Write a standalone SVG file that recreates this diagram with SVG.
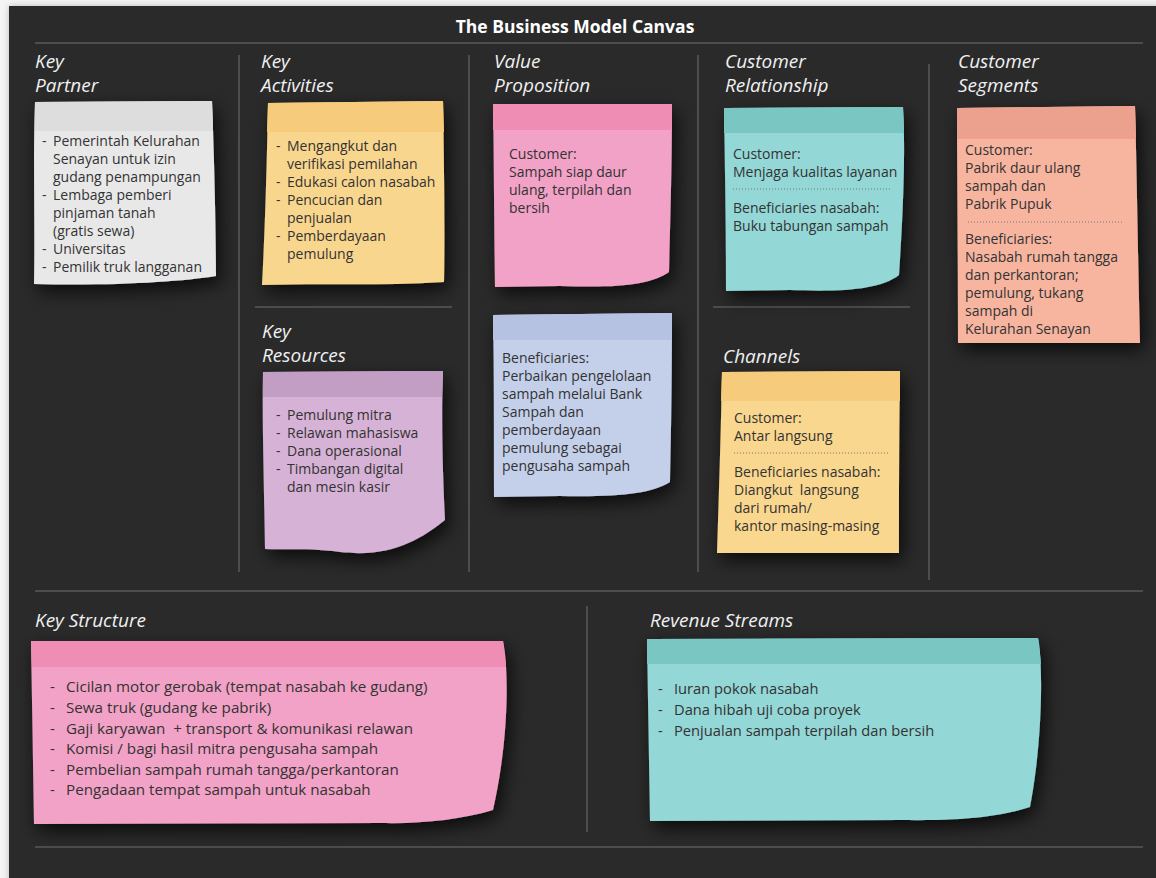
<svg xmlns="http://www.w3.org/2000/svg" width="1156" height="878" viewBox="0 0 1156 878">
<defs>
<filter id="sh" x="-20%" y="-20%" width="150%" height="150%">
<feDropShadow dx="4" dy="7" stdDeviation="9" flood-color="#000" flood-opacity="0.75"/>
</filter>
<filter id="pg" x="-5%" y="-5%" width="110%" height="110%">
<feDropShadow dx="0" dy="0" stdDeviation="3" flood-color="#000" flood-opacity="0.25"/>
</filter>
<style>
.title{font-family:"Open Sans","Noto Sans",sans-serif;font-weight:700;font-size:17.5px;fill:#ffffff}
.hd{font-family:"Open Sans","Noto Sans",sans-serif;font-style:italic;font-size:19px;fill:#f0f0f0}
.tx{font-family:"Open Sans","Noto Sans",sans-serif;font-size:14px;fill:#333333}
.ks{font-size:15.2px}
.rv{font-size:14.7px}
.div{stroke:#4d4d4d;stroke-width:2;fill:none}
.dot{stroke:#777;stroke-width:1;stroke-dasharray:1 2;fill:none}
</style>
</defs>
<rect x="0" y="0" width="1156" height="878" fill="#f4f4f4"/>
<rect x="9" y="6" width="1160" height="880" fill="#2a2a2a" filter="url(#pg)"/>
<text class="title" x="575" y="33" text-anchor="middle">The Business Model Canvas</text>
<g id="dividers">
<line class="div" x1="35" y1="43" x2="1143" y2="43"/>
<line class="div" x1="239" y1="55" x2="239" y2="572"/>
<line class="div" x1="469" y1="55" x2="469" y2="572"/>
<line class="div" x1="698" y1="55" x2="698" y2="572"/>
<line class="div" x1="929" y1="64" x2="929" y2="580"/>
<line class="div" x1="255" y1="307" x2="452" y2="307"/>
<line class="div" x1="713" y1="307" x2="910" y2="307"/>
<line class="div" x1="35" y1="591" x2="1143" y2="591"/>
<line class="div" x1="587" y1="606" x2="587" y2="832"/>
<line class="div" x1="35" y1="847" x2="1143" y2="847"/>
</g>
<g id="headings">
<text class="hd" x="35" y="68">Key</text><text class="hd" x="35" y="92">Partner</text>
<text class="hd" x="261" y="68">Key</text><text class="hd" x="261" y="92">Activities</text>
<text class="hd" x="494" y="68">Value</text><text class="hd" x="494" y="92">Proposition</text>
<text class="hd" x="725" y="68">Customer</text><text class="hd" x="725" y="92">Relationship</text>
<text class="hd" x="958" y="68">Customer</text><text class="hd" x="958" y="92">Segments</text>
<text class="hd" x="262" y="338">Key</text><text class="hd" x="262" y="362">Resources</text>
<text class="hd" x="723" y="363">Channels</text>
<text class="hd" x="35" y="627">Key Structure</text>
<text class="hd" x="650" y="627">Revenue Streams</text>
</g>
<g id="key-partner">
<path d="M35,102 L212,101 C214,150 216,230 216,276 C180,282 110,286 34,284 C35,230 33,150 35,102 Z" fill="#e8e8e8" filter="url(#sh)"/>
<polygon points="35,102 212,101 213,131 35,131" fill="#dcdddc"/>
<text class="tx"><tspan x="42" y="146">-</tspan><tspan x="53" y="146">Pemerintah Kelurahan</tspan><tspan x="53" y="164">Senayan untuk izin</tspan><tspan x="53" y="182">gudang penampungan</tspan><tspan x="42" y="200">-</tspan><tspan x="53" y="200">Lembaga pemberi</tspan><tspan x="53" y="218">pinjaman tanah</tspan><tspan x="53" y="236">(gratis sewa)</tspan><tspan x="42" y="254">-</tspan><tspan x="53" y="254">Universitas</tspan><tspan x="42" y="272">-</tspan><tspan x="53" y="272">Pemilik truk langganan</tspan></text>
</g>
<g id="key-activities">
<path d="M268,103 L443,101 C444,160 445,230 444,282 C380,286 320,283 262,285 C265,230 267,160 268,103 Z" fill="#f9d68e" filter="url(#sh)"/>
<polygon points="268,103 443,101 444,132 267,132" fill="#f6cb7c"/>
<text class="tx"><tspan x="276" y="151">-</tspan><tspan x="287" y="151">Mengangkut dan</tspan><tspan x="287" y="169">verifikasi pemilahan</tspan><tspan x="276" y="187">-</tspan><tspan x="287" y="187">Edukasi calon nasabah</tspan><tspan x="276" y="205">-</tspan><tspan x="287" y="205">Pencucian dan</tspan><tspan x="287" y="223">penjualan</tspan><tspan x="276" y="241">-</tspan><tspan x="287" y="241">Pemberdayaan</tspan><tspan x="287" y="259">pemulung</tspan></text>
</g>
<g id="key-resources">
<path d="M263,372 L443,371 C441,420 443,480 445,520 C420,540 390,558 340,552 C310,548 290,550 265,549 C264,480 262,420 263,372 Z" fill="#d6b2d6" filter="url(#sh)"/>
<polygon points="263,372 443,371 442,397 263,397" fill="#c29ec4"/>
<text class="tx"><tspan x="276" y="420">-</tspan><tspan x="287" y="420">Pemulung mitra</tspan><tspan x="276" y="438">-</tspan><tspan x="287" y="438">Relawan mahasiswa</tspan><tspan x="276" y="456">-</tspan><tspan x="287" y="456">Dana operasional</tspan><tspan x="276" y="474">-</tspan><tspan x="287" y="474">Timbangan digital</tspan><tspan x="287" y="492">dan mesin kasir</tspan></text>
</g>
<g id="value-proposition-customer">
<path d="M493,104 L672,104 C672,170 670,230 669,272 C650,285 620,288 560,286 L495,287 C494,220 494,160 493,104 Z" fill="#f2a2c6" filter="url(#sh)"/>
<polygon points="493,104 672,104 672,130 493,130" fill="#ef8db5"/>
<text class="tx"><tspan x="509" y="159">Customer:</tspan><tspan x="509" y="177">Sampah siap daur</tspan><tspan x="509" y="195">ulang, terpilah dan</tspan><tspan x="509" y="213">bersih</tspan></text>
</g>
<g id="value-proposition-beneficiaries">
<path d="M493,315 L672,313 C672,380 671,440 670,482 C650,494 620,497 560,496 L494,497 C494,430 494,370 493,315 Z" fill="#c4cfea" filter="url(#sh)"/>
<polygon points="493,315 672,313 672,340 493,340" fill="#b5c2e2"/>
<text class="tx"><tspan x="502" y="363">Beneficiaries:</tspan><tspan x="502" y="381">Perbaikan pengelolaan</tspan><tspan x="502" y="399">sampah melalui Bank</tspan><tspan x="502" y="417">Sampah dan</tspan><tspan x="502" y="435">pemberdayaan</tspan><tspan x="502" y="453">pemulung sebagai</tspan><tspan x="502" y="471">pengusaha sampah</tspan></text>
</g>
<g id="customer-relationship">
<path d="M724,108 L903,107 C906,160 902,230 899,275 C880,290 840,292 790,290 L726,291 C726,230 725,170 724,108 Z" fill="#93d7d6" filter="url(#sh)"/>
<polygon points="724,108 903,107 904,133 724,133" fill="#79c6c3"/>
<text class="tx"><tspan x="733" y="159">Customer:</tspan><tspan x="733" y="177">Menjaga kualitas layanan</tspan></text>
<line class="dot" x1="733" y1="189" x2="890" y2="189"/>
<text class="tx"><tspan x="733" y="213">Beneficiaries nasabah:</tspan><tspan x="733" y="231">Buku tabungan sampah</tspan></text>
</g>
<g id="channels">
<path d="M722,372 L900,371 C899,430 899,500 899,553 L717,553 C719,490 721,430 722,372 Z" fill="#fad78f" filter="url(#sh)"/>
<polygon points="722,372 900,371 900,401 721,401" fill="#f6cb7c"/>
<text class="tx"><tspan x="734" y="423">Customer:</tspan><tspan x="734" y="441">Antar langsung</tspan></text>
<line class="dot" x1="734" y1="453" x2="890" y2="453"/>
<text class="tx"><tspan x="734" y="477">Beneficiaries nasabah:</tspan><tspan x="734" y="495">Diangkut&#160; langsung</tspan><tspan x="734" y="513">dari rumah/</tspan><tspan x="734" y="531">kantor masing-masing</tspan></text>
</g>
<g id="customer-segments">
<path d="M957,108 L1135,106 C1137,180 1138,260 1140,343 L958,343 C958,260 957,180 957,108 Z" fill="#f7b5a0" filter="url(#sh)"/>
<polygon points="957,108 1135,106 1136,139 957,139" fill="#eba18d"/>
<text class="tx"><tspan x="965" y="155">Customer:</tspan><tspan x="965" y="173">Pabrik daur ulang</tspan><tspan x="965" y="191">sampah dan</tspan><tspan x="965" y="209">Pabrik Pupuk</tspan></text>
<line class="dot" x1="968" y1="222" x2="1123" y2="222"/>
<text class="tx"><tspan x="965" y="244">Beneficiaries:</tspan><tspan x="965" y="262">Nasabah rumah tangga</tspan><tspan x="965" y="280">dan perkantoran;</tspan><tspan x="965" y="298">pemulung, tukang</tspan><tspan x="965" y="316">sampah di</tspan><tspan x="965" y="334">Kelurahan Senayan</tspan></text>
</g>
<g id="key-structure">
<path d="M31,641 L503,641 C509,670 509,740 493,810 C460,820 420,824 380,823 L34,824 C33,760 32,700 31,641 Z" fill="#f2a2c6" filter="url(#sh)"/>
<polygon points="31,641 503,641 506,667 32,667" fill="#ef8db5"/>
<text class="tx ks"><tspan x="50" y="692">-</tspan><tspan x="66" y="692">Cicilan motor gerobak (tempat nasabah ke gudang)</tspan><tspan x="50" y="713">-</tspan><tspan x="66" y="713">Sewa truk (gudang ke pabrik)</tspan><tspan x="50" y="734">-</tspan><tspan x="66" y="734">Gaji karyawan&#160; + transport &amp; komunikasi relawan</tspan><tspan x="50" y="754">-</tspan><tspan x="66" y="754">Komisi / bagi hasil mitra pengusaha sampah</tspan><tspan x="50" y="775">-</tspan><tspan x="66" y="775">Pembelian sampah rumah tangga/perkantoran</tspan><tspan x="50" y="795">-</tspan><tspan x="66" y="795">Pengadaan tempat sampah untuk nasabah</tspan></text>
</g>
<g id="revenue-streams">
<path d="M647,639 L1038,638 C1043,660 1043,740 1030,807 C1000,817 960,821 900,820 L650,821 C649,760 648,700 647,639 Z" fill="#93d7d6" filter="url(#sh)"/>
<polygon points="647,639 1038,638 1041,664 647,664" fill="#79c6c3"/>
<text class="tx rv"><tspan x="658" y="694">-</tspan><tspan x="674" y="694">Iuran pokok nasabah</tspan><tspan x="658" y="715">-</tspan><tspan x="674" y="715">Dana hibah uji coba proyek</tspan><tspan x="658" y="736">-</tspan><tspan x="674" y="736">Penjualan sampah terpilah dan bersih</tspan></text>
</g>
</svg>
